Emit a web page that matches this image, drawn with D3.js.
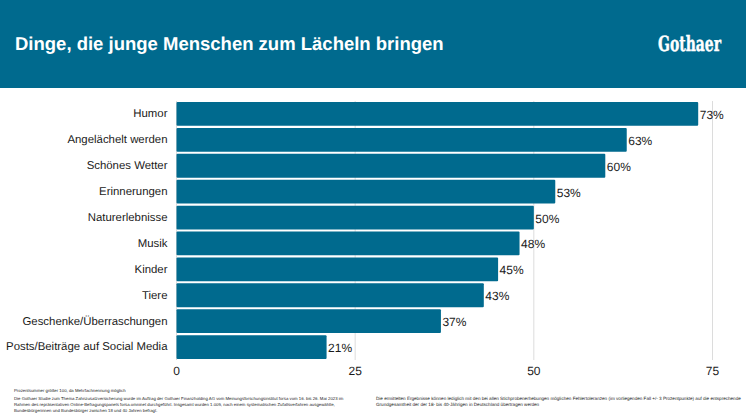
<!DOCTYPE html>
<html lang="de">
<head>
<meta charset="utf-8">
<title>Dinge, die junge Menschen zum Lächeln bringen</title>
<script src="https://cdn.jsdelivr.net/npm/d3@7"></script>
<style>
html, body { margin: 0; padding: 0; background: #fff; }
svg { display: block; font-family: "Liberation Sans", Arial, sans-serif; text-rendering: geometricPrecision; }
</style>
</head>
<body>
<svg id="chart" width="746" height="420"></svg>
<script>
const categories = ["Humor", "Angelächelt werden", "Schönes Wetter", "Erinnerungen", "Naturerlebnisse",
    "Musik", "Kinder", "Tiere", "Geschenke/Überraschungen", "Posts/Beiträge auf Social Media"];
const values = [73, 63, 60, 53, 50, 48, 45, 43, 37, 21];
const xTicks = [0, 25, 50, 75];
const title = "Dinge, die junge Menschen zum Lächeln bringen";
const notesLeft = [
    "Prozentsummer größer 100, da Mehrfachnennung möglich",
    "Die Gothaer Studie zum Thema Zahnzusatzversicherung wurde im Auftrag der Gothaer Finanzholding AG vom Meinungsforschungsinstitut forsa vom 16. bis  26. Mai 2023 im",
    "Rahmen des repräsentativen Online-Befragungspanels forsa.omninet durchgeführt. Insgesamt wurden 1.009, nach einem systematischen Zufallsverfahren ausgewählte,",
    "Bundesbürgerinnen und Bundesbürger zwischen 18 und 40 Jahren befragt."
];
const notesRight = [
    "Die ermittelten Ergebnisse können lediglich mit den bei allen Stichprobenerhebungen möglichen Fehlertoleranzen (im vorliegenden Fall +/- 3 Prozentpunkte) auf die entsprechende",
    "Grundgesamtheit der der 18- bis 40-Jährigen in Deutschland übertragen werden"
];

const blue = "#006a8e";
const svg = d3.select("#chart");

// Kopfzeile
svg.append("rect").attr("width", 746).attr("height", 88).attr("fill", blue);
svg.append("text").attr("x", 15).attr("y", 50)
    .attr("font-size", 18.5).attr("font-weight", "bold").attr("fill", "#fff")
    .text(title);
svg.append("text").attr("x", 721).attr("y", 51).attr("text-anchor", "end")
    .attr("font-family", "'DejaVu Serif Condensed', 'DejaVu Serif', serif")
    .attr("font-size", 21).attr("font-weight", "bold").attr("fill", "#fff")
    .attr("stroke", "#fff").attr("stroke-width", 0.4)
    .attr("textLength", 63).attr("lengthAdjust", "spacingAndGlyphs")
    .text("Gothaer");

const x = d3.scaleLinear().domain([0, 75]).range([176.5, 712.5]);
const y = d3.scaleBand().domain(categories).range([101, 360]).paddingInner(0.08).paddingOuter(0.04);

// Gitterlinien
svg.append("g").selectAll("line").data(xTicks).join("line")
    .attr("x1", d => x(d)).attr("x2", d => x(d))
    .attr("y1", 101).attr("y2", 360)
    .attr("stroke", "#dcdcdc").attr("stroke-width", 1);

// Balken
svg.append("g").selectAll("rect").data(values).join("rect")
    .attr("x", x(0))
    .attr("y", (d, i) => y(categories[i]))
    .attr("width", d => x(d) - x(0))
    .attr("height", y.bandwidth())
    .attr("rx", 1)
    .attr("fill", blue);

// Werte
svg.append("g").selectAll("text").data(values).join("text")
    .attr("x", d => x(d) + 1.5)
    .attr("y", (d, i) => y(categories[i]) + y.bandwidth() / 2)
    .attr("dy", "0.42em")
    .attr("font-size", 12).attr("fill", "#1a1a1a")
    .text(d => d + "%");

// Kategorien
svg.append("g").selectAll("text").data(categories).join("text")
    .attr("x", 167.5)
    .attr("y", d => y(d) + y.bandwidth() / 2)
    .attr("dy", "0.3em")
    .attr("text-anchor", "end")
    .attr("font-size", 11.4).attr("fill", "#1a1a1a")
    .text(d => d);

// Achse
svg.append("g").selectAll("text").data(xTicks).join("text")
    .attr("x", d => x(d)).attr("y", 375)
    .attr("text-anchor", "middle")
    .attr("font-size", 12).attr("fill", "#1a1a1a")
    .text(d => d);

// Fussnoten
svg.append("g").selectAll("text").data(notesLeft).join("text")
    .attr("x", 14)
    .attr("y", (d, i) => i === 0 ? 392 : 394 + i * 6)
    .attr("font-size", 4.3).attr("fill", "#222")
    .text(d => d);
svg.append("g").selectAll("text").data(notesRight).join("text")
    .attr("x", 376)
    .attr("y", (d, i) => 400 + i * 6)
    .attr("font-size", 4.6).attr("fill", "#222")
    .text(d => d);
</script>
</body>
</html>
